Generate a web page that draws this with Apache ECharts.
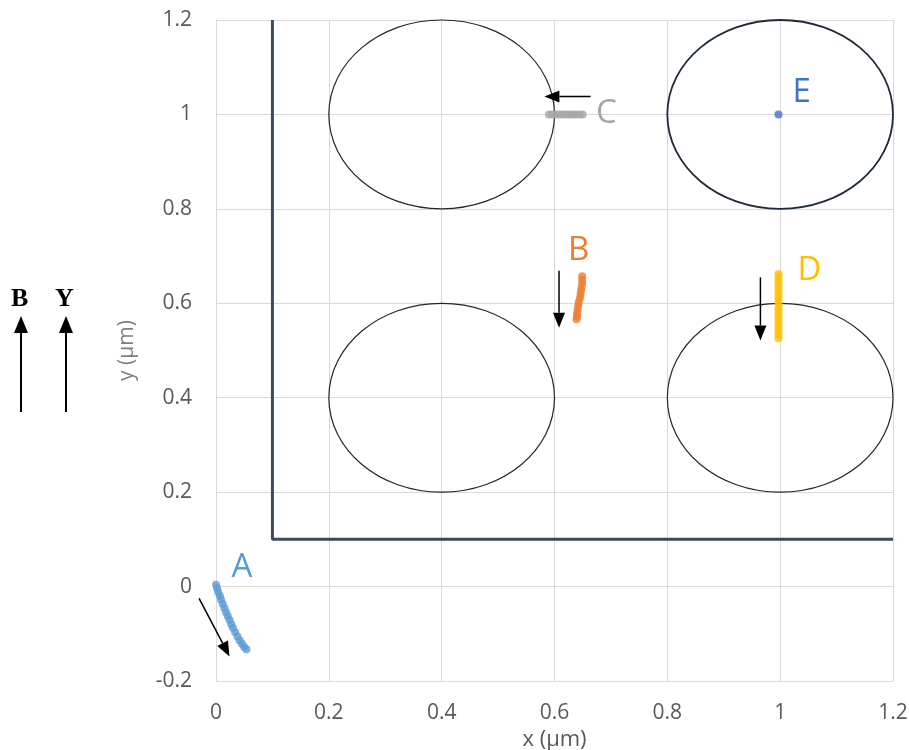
<!DOCTYPE html>
<html>
<head>
<meta charset="utf-8">
<script src="https://cdn.jsdelivr.net/npm/echarts@6/dist/echarts.min.js"></script>
<style>
  html, body { margin: 0; padding: 0; background: #fff; }
  #chart { width: 909px; height: 750px; }
</style>
</head>
<body>
<div id="chart"></div>
<script>
// Axis ticks
const xTicks = [0, 0.2, 0.4, 0.6, 0.8, 1.0, 1.2];
const yTicks = [-0.2, 0, 0.2, 0.4, 0.6, 0.8, 1.0, 1.2];

// Trajectories (µm)
const trackA = [[0.000, 0.004], [0.002, -0.004], [0.004, -0.012], [0.007, -0.020], [0.009, -0.028],
                [0.012, -0.037], [0.015, -0.046], [0.018, -0.055], [0.021, -0.063], [0.024, -0.071],
                [0.027, -0.080], [0.030, -0.088], [0.034, -0.097], [0.038, -0.106], [0.042, -0.114],
                [0.046, -0.121], [0.050, -0.128], [0.054, -0.133]];
const trackB = [[0.649, 0.657], [0.649, 0.650], [0.649, 0.642], [0.648, 0.634], [0.647, 0.626],
                [0.646, 0.618], [0.645, 0.610], [0.643, 0.602], [0.642, 0.594], [0.641, 0.587],
                [0.640, 0.579], [0.640, 0.572], [0.639, 0.566]];
const trackC = [[0.590, 1.0], [0.596, 1.0], [0.602, 1.0], [0.608, 1.0], [0.614, 1.0],
                [0.620, 1.0], [0.626, 1.0], [0.632, 1.0], [0.638, 1.0], [0.644, 1.0], [0.650, 1.0]];
const trackD = [[0.997, 0.662], [0.997, 0.654], [0.997, 0.646], [0.997, 0.638], [0.997, 0.630],
                [0.997, 0.622], [0.997, 0.614], [0.997, 0.606], [0.997, 0.598], [0.997, 0.590],
                [0.997, 0.582], [0.997, 0.574], [0.997, 0.566], [0.997, 0.558], [0.997, 0.550],
                [0.997, 0.542], [0.997, 0.534], [0.997, 0.526]];
const trackE = [[0.997, 1.0]];

// Pillars: centre x, centre y, radius (µm)
const pillars = [[0.4, 1.0, 0.2], [1.0, 1.0, 0.2], [0.4, 0.4, 0.2], [1.0, 0.4, 0.2]];

// Boundary corner
const boundary = [[0.1, 1.2], [0.1, 0.1], [1.2, 0.1]];

// Direction arrows: x1, y1, x2, y2 (tail to head)
const arrows = [
  [-0.030, -0.025, 0.024, -0.148],
  [0.664, 1.038, 0.582, 1.038],
  [0.608, 0.669, 0.608, 0.548],
  [0.965, 0.655, 0.965, 0.521]
];

const trackNames = ['A', 'B', 'C', 'D', 'E'];
const trackColors = ['#5B9BD5', '#ED7D31', '#A5A5A5', '#FFC000', '#4472C4'];
const labelAt = [[0.046, 0.040], [0.643, 0.712], [0.692, 1.002], [1.052, 0.670], [1.038, 1.047]];
const tracks = [trackA, trackB, trackC, trackD, trackE];

const FONT = '"Open Sans", "Liberation Sans", sans-serif';

const chart = echarts.init(document.getElementById('chart'));

const trackSeries = tracks.map((d, i) => ({
  type: 'scatter',
  name: trackNames[i],
  data: d,
  symbol: 'circle',
  symbolSize: 8,
  itemStyle: { color: trackColors[i] },
  z: 5,
  silent: true,
  markPoint: {
    symbol: 'circle',
    symbolSize: 0,
    silent: true,
    data: [{
      coord: labelAt[i],
      label: {
        show: true,
        position: 'inside',
        formatter: trackNames[i],
        color: trackColors[i],
        fontSize: 33,
        fontFamily: FONT
      }
    }]
  }
}));

const tickFmt = ticks => v => {
  const t = ticks.find(k => Math.abs(k - v) < 1e-9);
  return t === undefined ? '' : String(+t.toFixed(1));
};

const option = {
  animation: false,
  backgroundColor: '#ffffff',
  grid: { left: 216, right: 16, top: 20, bottom: 69, outerBoundsMode: 'none', containLabel: false },
  xAxis: {
    type: 'value',
    min: 0, max: 1.2, interval: 0.2,
    name: 'x (µm)',
    nameLocation: 'middle',
    nameGap: 46,
    nameTextStyle: { color: '#595959', fontSize: 22, fontFamily: FONT },
    axisLine: { show: true, onZero: false, lineStyle: { color: '#d9d9d9' } },
    axisTick: { show: false },
    splitLine: { show: true, lineStyle: { color: '#d9d9d9', width: 1 } },
    axisLabel: { margin: 22, color: '#595959', fontSize: 21, fontFamily: FONT, formatter: tickFmt(xTicks) }
  },
  yAxis: {
    type: 'value',
    min: -0.2, max: 1.2, interval: 0.2,
    name: 'y (µm)',
    nameLocation: 'middle',
    nameGap: 78,
    nameRotate: 90,
    nameTextStyle: { color: '#7f7f7f', fontSize: 21, fontFamily: FONT },
    axisLine: { show: true, onZero: false, lineStyle: { color: '#d9d9d9' } },
    axisTick: { show: false },
    splitLine: { show: true, lineStyle: { color: '#d9d9d9', width: 1 } },
    axisLabel: { margin: 24, color: '#595959', fontSize: 21, fontFamily: FONT, formatter: tickFmt(yTicks) }
  },
  series: [
    {
      type: 'custom',
      name: 'pillars',
      data: pillars,
      silent: true,
      clip: false,
      z: 3,
      renderItem: (params, api) => {
        const cx = api.value(0), cy = api.value(1), r = api.value(2);
        const c = api.coord([cx, cy]);
        const e = api.coord([cx + r, cy + r]);
        const dark = params.dataIndex === 1;
        return {
          type: 'ellipse',
          shape: { cx: c[0], cy: c[1], rx: e[0] - c[0], ry: c[1] - e[1] },
          style: { fill: 'none', stroke: dark ? '#1e2a38' : '#262626', lineWidth: dark ? 1.8 : 1.2 }
        };
      }
    },
    {
      type: 'line',
      name: 'boundary',
      data: boundary,
      symbol: 'none',
      silent: true,
      z: 4,
      lineStyle: { color: '#3b4a5e', width: 3 }
    },
    {
      type: 'custom',
      name: 'arrows',
      data: arrows,
      silent: true,
      clip: false,
      z: 6,
      renderItem: (params, api) => {
        const p1 = api.coord([api.value(0), api.value(1)]);
        const p2 = api.coord([api.value(2), api.value(3)]);
        const dx = p2[0] - p1[0], dy = p2[1] - p1[1];
        const len = Math.hypot(dx, dy);
        const ux = dx / len, uy = dy / len;
        const headL = 15, headW = 6;
        const bx = p2[0] - ux * headL, by = p2[1] - uy * headL;
        return {
          type: 'group',
          children: [
            { type: 'line', shape: { x1: p1[0], y1: p1[1], x2: bx, y2: by }, style: { stroke: '#000', lineWidth: 1.5 } },
            { type: 'polygon', shape: { points: [[p2[0], p2[1]], [bx - uy * headW, by + ux * headW], [bx + uy * headW, by - ux * headW]] }, style: { fill: '#000' } }
          ]
        };
      }
    },
    ...trackSeries
  ],
  graphic: [
    { type: 'text', left: 11, top: 286, style: { text: 'B', fontSize: 26, fontWeight: 'bold', fontFamily: '"Liberation Serif", "DejaVu Serif", serif', fill: '#000' } },
    { type: 'text', left: 55, top: 286, style: { text: 'Y', fontSize: 26, fontWeight: 'bold', fontFamily: '"Liberation Serif", "DejaVu Serif", serif', fill: '#000' } },
    { type: 'line', shape: { x1: 21, y1: 412, x2: 21, y2: 330 }, style: { stroke: '#000', lineWidth: 2 } },
    { type: 'polygon', shape: { points: [[21, 316], [14, 333], [28, 333]] }, style: { fill: '#000' } },
    { type: 'line', shape: { x1: 66, y1: 412, x2: 66, y2: 330 }, style: { stroke: '#000', lineWidth: 2 } },
    { type: 'polygon', shape: { points: [[66, 316], [59, 333], [73, 333]] }, style: { fill: '#000' } }
  ]
};

chart.setOption(option);
</script>
</body>
</html>
